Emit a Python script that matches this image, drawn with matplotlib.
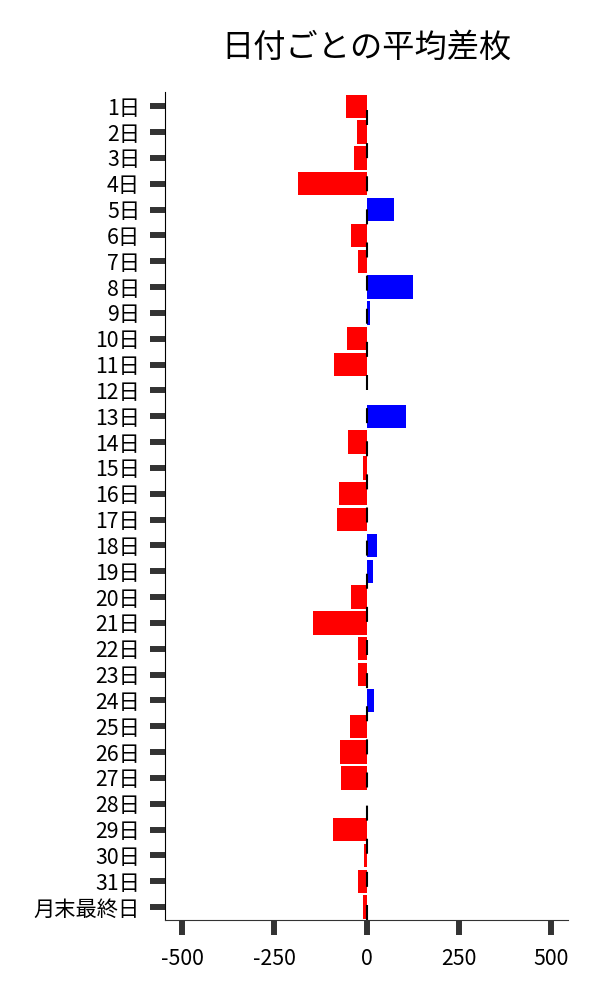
import numpy as np
import matplotlib.pyplot as plt

plt.rcParams['font.family'] = ['Noto Sans CJK JP', 'DejaVu Sans']
plt.rcParams['axes.unicode_minus'] = False

labels = [f'{d}日' for d in range(1, 32)] + ['月末最終日']
avg_diff = [-57, -27, -33, -187, 73, -41, -22, 125, 10, -54,
            -87, 0, 106, -51, -11, -76, -79, 27, 16, -41,
            -144, -24, -24, 19, -46, -73, -70, 1, -92, -8,
            -24, -11]

values = np.array(avg_diff)
colors = np.where(values >= 0, 'blue', 'red')
y = np.arange(len(labels))

fig = plt.figure(figsize=(6, 10), dpi=100)
ax = fig.add_axes([0.275, 0.08, 0.672, 0.828])

ax.barh(y, values, height=0.9, color=colors)
ax.axvline(0, color='black', lw=1.5, linestyle=(0, (7.2, 8.7)))

ax.set_yticks(y)
ax.set_yticklabels(labels)
ax.set_ylim(len(labels) - 0.5, -0.55)
ax.set_xlim(-546, 546)
ax.set_xticks([-500, -250, 0, 250, 500])

ax.spines['top'].set_visible(False)
ax.spines['right'].set_visible(False)
ax.spines['left'].set_color('black')
ax.spines['bottom'].set_color('#333333')
ax.tick_params(axis='both', length=11, width=4.3, color='#333333',
               labelsize=15.3)
ax.tick_params(axis='y', pad=7)
ax.tick_params(axis='x', pad=9)

ax.set_title('日付ごとの平均差枚', fontsize=23.2, pad=25)

plt.savefig('out.png', dpi=100)
